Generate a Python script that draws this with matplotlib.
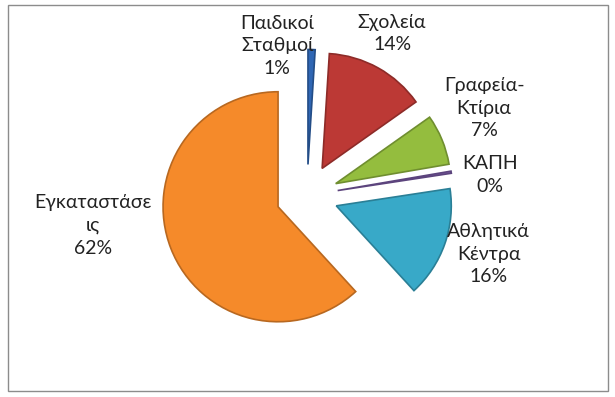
import matplotlib.pyplot as plt
from matplotlib.patches import Rectangle

categories = ['Παιδικοί\nΣταθμοί', 'Σχολεία', 'Γραφεία-\nΚτίρια', 'ΚΑΠΗ',
              'Αθλητικά\nΚέντρα', 'Εγκαταστάσε\nις']
values = [1.0, 14.2, 7.1, 0.3, 15.6, 61.8]
colors = ['#2F66B4', '#BC3935', '#94BD3E', '#7B5AA6', '#38A9C8', '#F58A2A']

# label positions (data units, pie radius = 1)
label_pos = [(-0.26, 1.30), (0.74, 1.41), (1.54, 0.76), (1.59, 0.18),
             (1.58, -0.51), (-1.86, -0.26)]

plt.rcParams['font.family'] = ['Lato', 'DejaVu Sans']

fig = plt.figure(figsize=(6.15, 3.97), dpi=100)
ax = fig.add_axes([0, 0, 1, 1])

wedges, texts = ax.pie(values, colors=colors, startangle=90, counterclock=False,
                       explode=[0.27] * len(values), radius=1.0,
                       wedgeprops=dict(linewidth=1.2))
for w in wedges:
    fc = w.get_facecolor()
    w.set_edgecolor(tuple(c * 0.75 for c in fc[:3]))

total = sum(values)
for name, v, pos in zip(categories, values, label_pos):
    ax.text(pos[0], pos[1], f'{name}\n{v / total * 100:.0f}%', ha='center', va='center',
            fontsize=14, color='#222222', linespacing=1.4)

# pie centre at (307, 195.5) px, radius 115 px
ax.set_xlim(-307 / 115, (615 - 307) / 115)
ax.set_ylim((195.5 - 397) / 115, 195.5 / 115)
ax.set_aspect('equal')
ax.axis('off')

fig.patches.append(Rectangle((8 / 615, 6 / 397), 600 / 615, 386 / 397,
                             transform=fig.transFigure, fill=False,
                             edgecolor='#8c8c8c', linewidth=1))

fig.savefig('out.png', dpi=100)
